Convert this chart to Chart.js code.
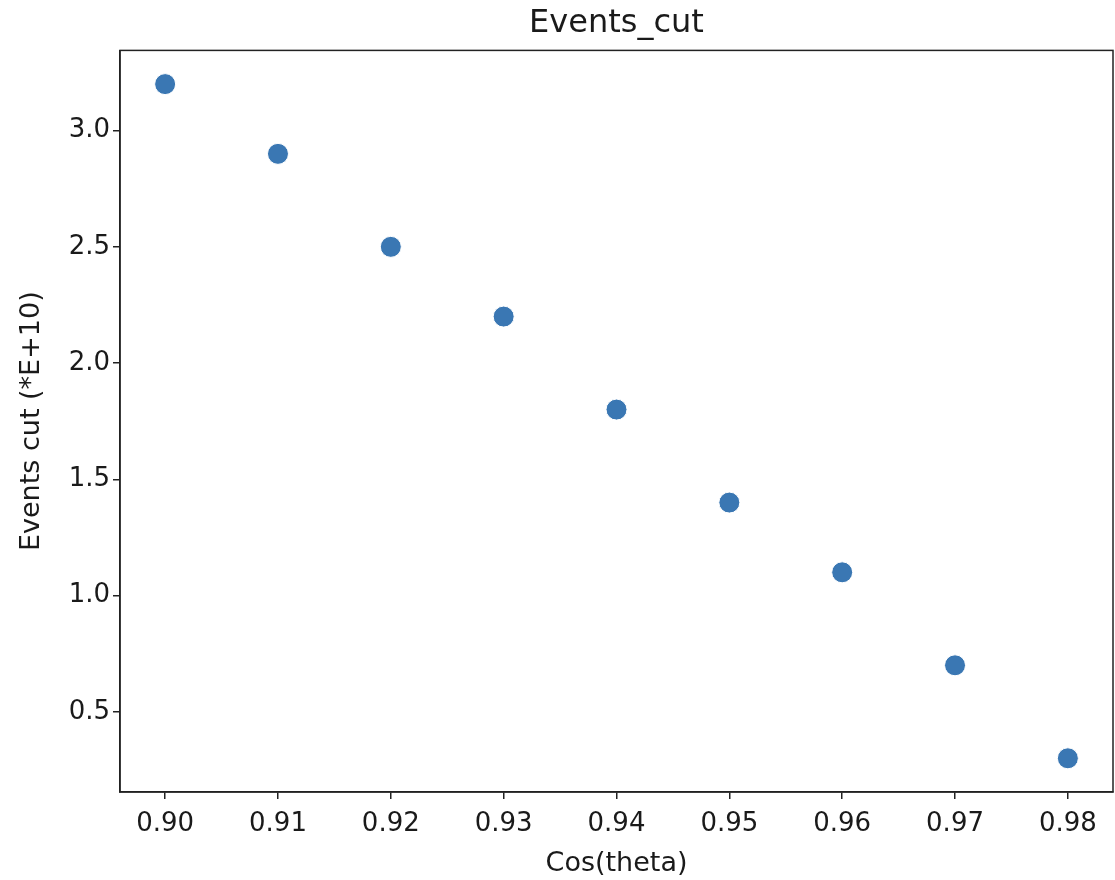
<!DOCTYPE html>
<html>
<head>
<meta charset="utf-8">
<title>Events_cut</title>
<script src="https://cdn.jsdelivr.net/npm/chart.js@4"></script>
<style>
  html, body { margin: 0; padding: 0; background: #fff; }
  #wrap { width: 1115px; height: 880px; position: relative; }
</style>
</head>
<body>
<div id="wrap"><canvas id="chart"></canvas></div>
<script>
// Data
const cosTheta = [0.90, 0.91, 0.92, 0.93, 0.94, 0.95, 0.96, 0.97, 0.98];
const eventsCut = [3.2, 2.9, 2.5, 2.2, 1.8, 1.4, 1.1, 0.7, 0.3];
const xTicks = [0.90, 0.91, 0.92, 0.93, 0.94, 0.95, 0.96, 0.97, 0.98];
const yTicks = [0.5, 1.0, 1.5, 2.0, 2.5, 3.0];

const FONT = "'DejaVu Sans', sans-serif";
const INK = '#1a1a1a';

// Draw the full axes box (top and right spines too)
const frameBox = {
    id: 'frameBox',
    afterDatasetsDraw(chart) {
        const { ctx, chartArea: a } = chart;
        ctx.save();
        ctx.strokeStyle = '#222';
        ctx.lineWidth = 1.5;
        ctx.strokeRect(a.left, a.top, a.right - a.left, a.bottom - a.top);
        ctx.restore();
    }
};

// Center the title over the plot area, like matplotlib does
const titleOverPlot = {
    id: 'titleOverPlot',
    afterLayout(chart) {
        if (chart.titleBlock) {
            chart.titleBlock.left = chart.chartArea.left;
            chart.titleBlock.right = chart.chartArea.right;
        }
    }
};

const ctx = document.getElementById('chart');
new Chart(ctx, {
    type: 'scatter',
    data: {
        datasets: [{
            label: 'Events cut',
            data: cosTheta.map((x, i) => ({ x: x, y: eventsCut[i] })),
            backgroundColor: '#3a77b3',
            borderColor: '#ffffff',
            borderWidth: 1,
            pointRadius: 10.5,
            pointHoverRadius: 10.5
        }]
    },
    plugins: [frameBox, titleOverPlot],
    options: {
        responsive: true,
        maintainAspectRatio: false,
        animation: false,
        layout: { autoPadding: false, padding: { left: 0, right: 2, top: 0, bottom: 0 } },
        plugins: {
            legend: { display: false },
            tooltip: { enabled: false },
            title: {
                display: true,
                text: 'Events_cut',
                color: INK,
                font: { family: FONT, size: 32, weight: 'normal' },
                padding: { top: 4, bottom: 8 }
            }
        },
        scales: {
            x: {
                type: 'linear',
                min: 0.896,
                max: 0.984,
                afterBuildTicks: function (scale) {
                    scale.ticks = xTicks.map(v => ({ value: v }));
                },
                afterFit: function (scale) {
                    scale.height = 88;
                    scale.paddingLeft = 0;
                    scale.paddingRight = 0;
                },
                grid: { drawOnChartArea: false, drawTicks: true, tickLength: 7, color: '#222', lineWidth: 1.5 },
                border: { display: true, color: '#222', width: 1.5 },
                ticks: {
                    color: INK,
                    padding: 10,
                    maxRotation: 0,
                    font: { family: FONT, size: 26 },
                    callback: v => v.toFixed(2)
                },
                title: {
                    display: true,
                    text: 'Cos(theta)',
                    color: INK,
                    font: { family: FONT, size: 27 },
                    padding: { top: 1, bottom: 0 }
                }
            },
            y: {
                min: 0.155,
                max: 3.345,
                afterBuildTicks: function (scale) {
                    scale.ticks = yTicks.map(v => ({ value: v }));
                },
                afterFit: function (scale) {
                    scale.width = 120;
                    scale.paddingTop = 0;
                    scale.paddingBottom = 0;
                },
                grid: { drawOnChartArea: false, drawTicks: true, tickLength: 7, color: '#222', lineWidth: 1.5 },
                border: { display: true, color: '#222', width: 1.5 },
                ticks: {
                    color: INK,
                    padding: 3,
                    font: { family: FONT, size: 26 },
                    callback: v => v.toFixed(1)
                },
                title: {
                    display: true,
                    text: 'Events cut (*E+10)',
                    color: INK,
                    font: { family: FONT, size: 27 },
                    padding: { top: 16, bottom: 0 }
                }
            }
        }
    }
});
</script>
</body>
</html>
